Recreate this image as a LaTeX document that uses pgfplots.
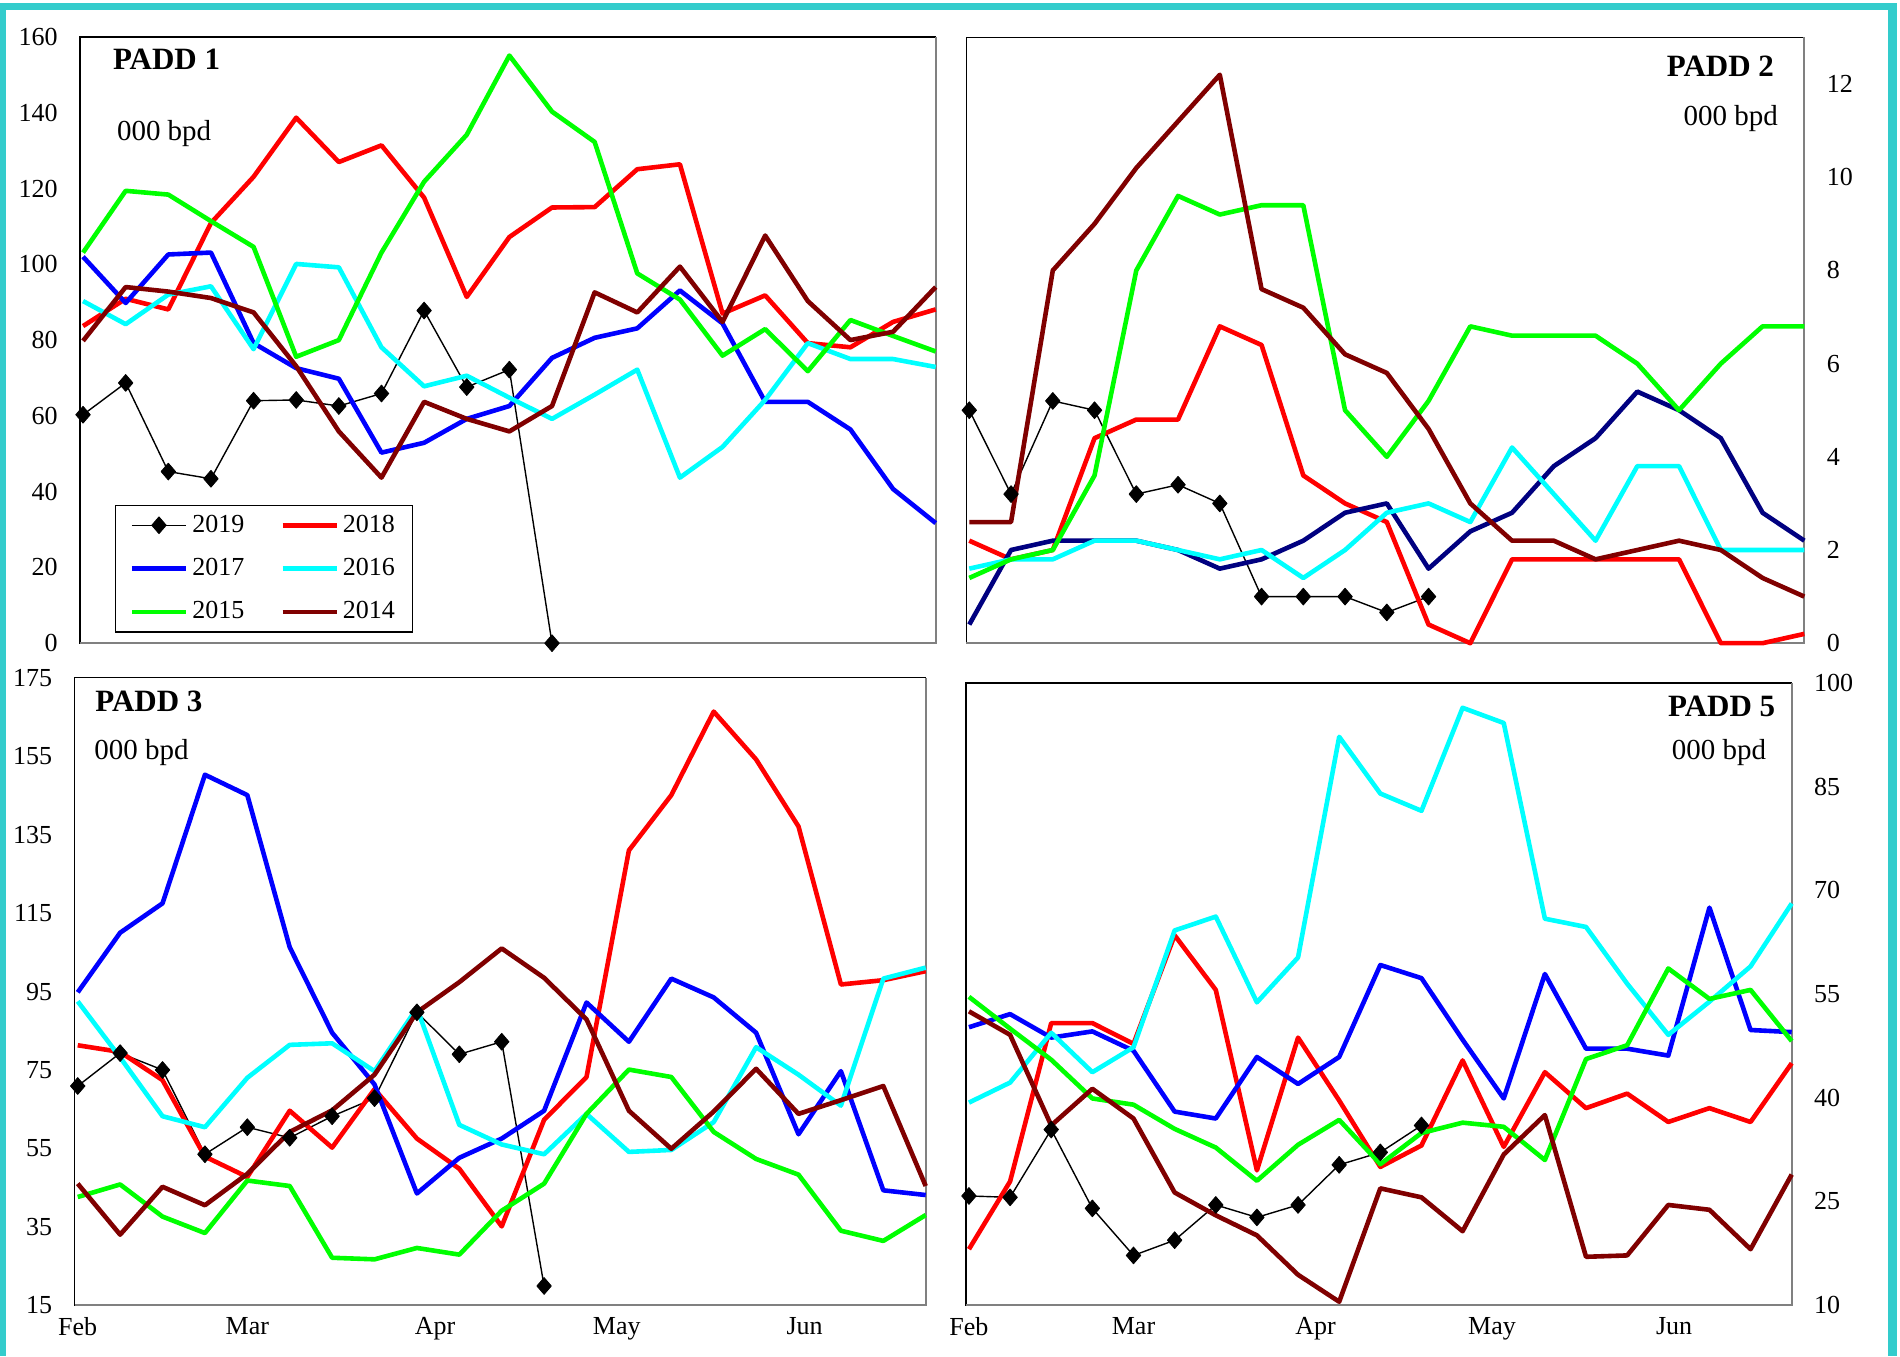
\documentclass[border=0pt]{standalone}
\usepackage{pgfplots}
\usepackage{pgfplotstable}
\usepackage{fontspec}
\setmainfont{Liberation Serif}
\pgfplotsset{compat=1.18}

\definecolor{c18}{RGB}{255,0,0}
\definecolor{c17}{RGB}{0,0,255}
\definecolor{c17n}{RGB}{0,0,128}
\definecolor{c16}{RGB}{0,255,255}
\definecolor{c15}{RGB}{0,255,0}
\definecolor{c14}{RGB}{128,0,0}
\definecolor{frame}{RGB}{51,204,204}
\definecolor{edge}{RGB}{128,128,128}

\pgfplotstableread{
day y19 y18 y17 y16 y15 y14
0   60.3 83.7 102.0 90.3 103.1 79.8
7   68.7 90.9 89.8 84.2 119.4 94.0
14  45.3 88.1 102.6 92.0 118.4 92.8
21  43.4 110.9 103.1 94.2 111.4 91.1
28  64.0 123.1 79.2 77.6 104.6 87.3
35  64.2 138.7 72.6 100.1 75.6 73.1
42  62.6 127.0 69.8 99.2 80.0 55.9
49  65.9 131.4 50.3 78.1 103.1 43.7
56  87.8 117.6 52.9 67.8 121.8 63.7
63  67.6 91.4 59.2 70.6 134.2 59.2
70  72.2 107.2 62.6 64.8 155.1 55.9
77  0.0 115.0 75.3 59.2 140.3 62.6
84  nan 115.1 80.6 65.6 132.3 92.6
91  nan 125.1 83.1 72.2 97.6 87.3
98  nan 126.4 93.1 43.7 90.7 99.4
105 nan 87.0 84.4 51.8 75.9 84.8
112 nan 91.8 63.7 64.2 82.9 107.6
119 nan 79.2 63.7 79.2 71.8 90.3
126 nan 78.1 56.4 75.0 85.3 80.0
133 nan 84.8 40.7 75.0 81.1 82.2
140 nan 88.1 31.7 72.9 77.0 94.0
}\paddone

\pgfplotstableread{
day y19 y18 y17 y16 y15 y14
0   5.0 2.2 0.4 1.6 1.4 2.6
7   3.2 1.8 2.0 1.8 1.8 2.6
14  5.2 2.0 2.2 1.8 2.0 8.0
21  5.0 4.4 2.2 2.2 3.6 9.0
28  3.2 4.8 2.2 2.2 8.0 10.2
35  3.4 4.8 2.0 2.0 9.6 11.2
42  3.0 6.8 1.6 1.8 9.2 12.2
49  1.0 6.4 1.8 2.0 9.4 7.6
56  1.0 3.6 2.2 1.4 9.4 7.2
63  1.0 3.0 2.8 2.0 5.0 6.2
70  0.66 2.6 3.0 2.8 4.0 5.8
77  1.0 0.4 1.6 3.0 5.2 4.6
84  nan 0.0 2.4 2.6 6.8 3.0
91  nan 1.8 2.8 4.2 6.6 2.2
98  nan 1.8 3.8 3.2 6.6 2.2
105 nan 1.8 4.4 2.2 6.6 1.8
112 nan 1.8 5.4 3.8 6.0 2.0
119 nan 1.8 5.0 3.8 5.0 2.2
126 nan 0.0 4.4 2.0 6.0 2.0
133 nan 0.0 2.8 2.0 6.8 1.4
140 nan 0.2 2.2 2.0 6.8 1.0
}\paddtwo

\pgfplotstableread{
day y19 y18 y17 y16 y15 y14
0   70.9 81.3 94.8 92.5 42.6 46.0
7   79.3 79.6 110.0 78.2 45.8 33.0
14  75.0 72.4 117.5 63.2 37.6 45.2
21  53.5 52.9 150.3 60.4 33.4 40.5
28  60.4 47.7 145.1 73.0 46.8 48.5
35  57.7 64.6 106.3 81.4 45.4 59.2
42  63.2 55.2 84.5 81.8 27.1 64.7
49  67.8 70.1 71.3 74.7 26.7 73.8
56  89.7 57.5 43.5 90.8 29.6 89.7
63  79.0 49.8 52.6 61.0 27.9 97.4
70  82.2 35.1 57.5 56.0 39.1 106.0
77  19.9 62.3 64.6 53.5 46.0 98.5
84  nan 73.2 92.2 63.8 63.8 87.9
91  nan 131.0 82.2 54.1 75.1 64.6
98  nan 145.1 98.3 54.6 73.2 54.9
105 nan 166.4 93.5 61.7 59.2 64.4
112 nan 154.2 84.5 80.8 52.3 75.3
119 nan 137.1 58.6 73.8 48.3 63.8
126 nan 96.8 74.7 65.9 34.0 67.3
133 nan 97.9 44.3 98.3 31.4 70.9
140 nan 100.2 43.1 101.1 38.0 45.4
}\paddthree

\pgfplotstableread{
day y19 y18 y17 y16 y15 y14
0   25.8 18.1 50.2 39.3 54.6 52.5
7   25.6 27.9 52.1 42.2 50.0 49.1
14  35.4 50.8 48.7 49.4 45.5 36.0
21  24.0 50.8 49.6 43.7 39.9 41.3
28  17.2 47.8 46.8 47.3 39.0 37.0
35  19.4 63.5 38.0 64.2 35.5 26.3
42  24.5 55.6 37.0 66.2 32.8 23.0
49  22.7 29.5 45.9 53.8 28.0 20.1
56  24.5 48.7 42.0 60.3 33.2 14.4
63  30.3 39.6 45.9 92.2 36.8 10.5
70  32.1 30.0 59.2 84.0 30.4 26.9
77  36.0 33.1 57.3 81.5 34.9 25.6
84  nan 45.4 48.4 96.4 36.4 20.7
91  nan 32.9 39.9 94.2 35.8 31.8
98  nan 43.7 57.9 65.9 31.0 37.5
105 nan 38.5 47.1 64.7 45.6 17.0
112 nan 40.6 47.1 56.5 47.6 17.2
119 nan 36.5 46.1 49.1 58.7 24.5
126 nan 38.5 67.5 53.9 54.3 23.8
133 nan 36.5 49.8 59.0 55.6 18.1
140 nan 45.0 49.5 68.1 48.2 28.9
}\paddfive

\tikzset{
  ttl/.style={font=\bfseries\fontsize{15.5}{18}\selectfont},
  unit/.style={font=\fontsize{14.5}{17}\selectfont},
}
\newcommand{\edges}{\draw[edge, line width=0.9pt] (rel axis cs:1,1) -- (rel axis cs:1,0) -- (rel axis cs:0,0);}

\pgfplotsset{
  padd/.style={
    scale only axis,
    xmin=-0.5, xmax=140,
    major tick length=0pt,
    clip=false,
    axis line style={line width=0.6pt},
    tick label style={font=\fontsize{13}{15}\selectfont},
    /pgf/number format/assume math mode=true,
    every axis plot/.append style={line join=round},
    legend image code/.code={\draw[mark repeat=2,mark phase=2,##1] plot coordinates {(0pt,0pt) (13.5pt,0pt) (27pt,0pt)};},
  },
  leftlab/.style={yticklabel style={xshift=-7.7pt}},
  rightlab/.style={yticklabel pos=right, yticklabel style={xshift=7.7pt}},
  nox/.style={xtick=\empty},
  months/.style={xtick={0,28,59,89,120}, xticklabels={Feb,Mar,Apr,May,Jun}, xticklabel style={yshift=-2.4pt}},
  s19/.style={black, line width=0.7pt, mark=diamond*, mark size=4.2pt, mark options={xscale=1.15, solid, fill=black, line width=0.4pt}},
  sline/.style={line width=2.3pt, no markers},
}

\begin{document}
\begin{tikzpicture}
\useasboundingbox (0,0) rectangle (950pt,678pt);

% PADD 1
\begin{axis}[padd, leftlab, nox,
  at={(40pt,356.4pt)}, anchor=south west,
  width=427.85pt, height=303.1pt,
  ymin=0, ymax=160, ytick={0,20,...,160},
  legend columns=2,
  legend cell align=left,
  legend style={at={(0.041,0.0175)}, anchor=south west, draw=black, line width=0.6pt,
    font=\fontsize{13}{15}\selectfont, inner xsep=7pt, inner ysep=3pt,
    row sep=7.5pt,
    /tikz/every even column/.append style={column sep=16pt}},
]
\edges
\addplot[s19] table[x=day,y=y19] {\paddone};
\addlegendentry{2019}
\addplot[sline, c18] table[x=day,y=y18] {\paddone};
\addlegendentry{2018}
\addplot[sline, c17] table[x=day,y=y17] {\paddone};
\addlegendentry{2017}
\addplot[sline, c16] table[x=day,y=y16] {\paddone};
\addlegendentry{2016}
\addplot[sline, c15] table[x=day,y=y15] {\paddone};
\addlegendentry{2015}
\addplot[sline, c14] table[x=day,y=y14] {\paddone};
\addlegendentry{2014}
\node[ttl, anchor=base west] at (rel axis cs:0.0304,0.9466) {PADD 1};
\node[unit, anchor=base west] at (rel axis cs:0.035,0.830) {000 bpd};
\end{axis}

% PADD 2
\begin{axis}[padd, rightlab, nox,
  at={(483.15pt,356.4pt)}, anchor=south west,
  width=419pt, height=302.85pt,
  ymin=0, ymax=13, ytick={0,2,...,12},
]
\edges
\addplot[s19] table[x=day,y=y19] {\paddtwo};
\addplot[sline, c18] table[x=day,y=y18] {\paddtwo};
\addplot[sline, c17n] table[x=day,y=y17] {\paddtwo};
\addplot[sline, c16] table[x=day,y=y16] {\paddtwo};
\addplot[sline, c15] table[x=day,y=y15] {\paddtwo};
\addplot[sline, c14] table[x=day,y=y14] {\paddtwo};
\node[ttl, anchor=base east] at (rel axis cs:0.9722,0.9348) {PADD 2};
\node[unit, anchor=base east] at (rel axis cs:0.977,0.855) {000 bpd};
\end{axis}

% PADD 3
\begin{axis}[padd, leftlab, months,
  at={(37.35pt,25.4pt)}, anchor=south west,
  width=425.5pt, height=313.65pt,
  ymin=15, ymax=175, ytick={15,35,...,175},
]
\edges
\addplot[s19] table[x=day,y=y19] {\paddthree};
\addplot[sline, c18] table[x=day,y=y18] {\paddthree};
\addplot[sline, c17] table[x=day,y=y17] {\paddthree};
\addplot[sline, c16] table[x=day,y=y16] {\paddthree};
\addplot[sline, c15] table[x=day,y=y15] {\paddthree};
\addplot[sline, c14] table[x=day,y=y14] {\paddthree};
\node[ttl, anchor=base west] at (rel axis cs:0.016,0.946) {PADD 3};
\node[unit, anchor=base west] at (rel axis cs:0.0149,0.870) {000 bpd};
\end{axis}

% PADD 5
\begin{axis}[padd, rightlab, months,
  at={(483pt,25.4pt)}, anchor=south west,
  width=412.85pt, height=311.15pt,
  ymin=10, ymax=100, ytick={10,25,...,100},
]
\edges
\addplot[s19] table[x=day,y=y19] {\paddfive};
\addplot[sline, c18] table[x=day,y=y18] {\paddfive};
\addplot[sline, c17] table[x=day,y=y17] {\paddfive};
\addplot[sline, c16] table[x=day,y=y16] {\paddfive};
\addplot[sline, c15] table[x=day,y=y15] {\paddfive};
\addplot[sline, c14] table[x=day,y=y14] {\paddfive};
\node[ttl, anchor=base east] at (rel axis cs:0.9886,0.9465) {PADD 5};
\node[unit, anchor=base east] at (rel axis cs:0.9777,0.877) {000 bpd};
\end{axis}

% outer teal frame (open at the bottom)
\fill[frame] (0pt,0pt) rectangle (3pt,676.35pt);
\fill[frame] (0pt,673pt) rectangle (948.5pt,676.35pt);
\fill[frame] (944pt,0pt) rectangle (948.5pt,676.35pt);
\end{tikzpicture}
\end{document}
